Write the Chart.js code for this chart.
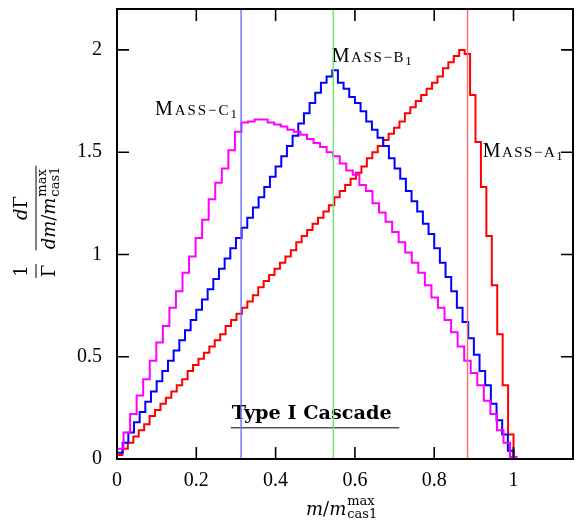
<!DOCTYPE html>
<html><head><meta charset="utf-8">
<script src="https://cdn.jsdelivr.net/npm/chart.js@4.4.0/dist/chart.umd.min.js"></script>
<style>html,body{margin:0;padding:0;background:#fff;}canvas{display:block;}</style>
</head><body>
<canvas id="c" width="583" height="523"></canvas>
<script>
// ---------- data ----------
const xTicks = [0, 0.2, 0.4, 0.6, 0.8, 1];
const xTickLabels = ['0', '0.2', '0.4', '0.6', '0.8', '1'];
const yTicks = [0, 0.5, 1, 1.5, 2];
const yTickLabels = ['0', '0.5', '1', '1.5', '2'];
const xMax = 1.15;
const yMax = 2.2;

// Mass-A1 (red) histogram, 73 bins of width 1/73
const massA1BinWidth = 1 / 73;
const massA1 = [0.02,0.05,0.08,0.11,0.14,0.17,0.21,0.24,0.27,0.30,
  0.33,0.36,0.39,0.43,0.46,0.49,0.52,0.55,0.58,0.61,
  0.65,0.68,0.71,0.74,0.77,0.80,0.84,0.87,0.90,0.93,
  0.96,0.99,1.02,1.06,1.09,1.12,1.15,1.18,1.21,1.24,
  1.28,1.31,1.34,1.37,1.40,1.43,1.47,1.50,1.53,1.56,
  1.59,1.62,1.65,1.69,1.72,1.75,1.78,1.81,1.84,1.87,
  1.91,1.94,1.97,2.00,1.98,1.78,1.55,1.33,1.09,0.85,
  0.61,0.36,0.12];

// Mass-B1 (blue) histogram, 70 bins of width 1/70
const massB1BinWidth = 1 / 70;
const massB1 = [0.03,0.08,0.13,0.18,0.23,0.28,0.33,0.38,0.43,0.48,
  0.53,0.58,0.63,0.68,0.73,0.78,0.83,0.88,0.93,0.98,
  1.03,1.08,1.13,1.18,1.23,1.28,1.33,1.38,1.43,1.48,
  1.53,1.58,1.64,1.69,1.74,1.79,1.84,1.87,1.90,1.84,
  1.81,1.77,1.74,1.70,1.65,1.61,1.57,1.53,1.47,1.42,
  1.37,1.31,1.26,1.21,1.15,1.10,1.03,0.96,0.89,0.82,
  0.74,0.67,0.59,0.51,0.43,0.36,0.27,0.19,0.12,0.04];

// Mass-C1 (magenta) histogram, 61 bins of width 0.01652
const massC1BinWidth = 0.01652;
const massC1 = [0.05,0.13,0.22,0.31,0.39,0.48,0.57,0.65,0.74,0.82,
  0.91,0.99,1.08,1.17,1.27,1.35,1.42,1.51,1.60,1.645,
  1.65,1.66,1.66,1.645,1.635,1.625,1.61,1.60,1.585,1.565,
  1.545,1.525,1.50,1.48,1.445,1.41,1.39,1.34,1.31,1.25,
  1.205,1.16,1.11,1.06,1.01,0.96,0.91,0.85,0.79,0.74,
  0.68,0.62,0.55,0.48,0.42,0.36,0.285,0.22,0.14,0.08,0.01];

// endpoint markers (vertical lines)
const endpointC1 = 0.313;   // blue line
const endpointB1 = 0.5455;  // green line
const endpointA1 = 0.884;   // red line

// ---------- helpers ----------
function histPoints(values, width) {
  const pts = [{x: 0, y: 0}];
  values.forEach((v, i) => pts.push({x: i * width, y: v}));
  const end = values.length * width;
  pts.push({x: end, y: values[values.length - 1]});
  pts.push({x: end, y: 0});
  pts.push({x: xMax, y: 0});
  return pts;
}
function vline(v) { return [{x: v, y: 0}, {x: v, y: yMax}]; }

const SERIF = '"Liberation Serif", "Times New Roman", serif';
const MATH = '"DejaVu Serif", serif';

function font(r) {
  return (r.italic ? 'italic ' : '') + (r.bold ? 'bold ' : '') + r.size + 'px ' + (r.family || SERIF);
}
function drawRuns(ctx, x, y, runs, target) {
  const widths = runs.map(r => { ctx.font = font(r); return ctx.measureText(r.t).width; });
  const total = widths.reduce((a, b) => a + b, 0);
  const gap = target && runs.length > 1 ? (target - total) / (runs.length - 1) : 0;
  runs.forEach((r, i) => {
    ctx.font = font(r);
    ctx.fillText(r.t, x, y + (r.dy || 0));
    x += widths[i] + gap;
  });
}
function smallCaps(letter) {
  return [
    {t: 'M', size: 20}, {t: 'A', size: 15}, {t: 'S', size: 15}, {t: 'S', size: 15},
    {t: '\u2212', size: 15}, {t: letter, size: 15}, {t: '1', size: 13, dy: 3}
  ];
}
function zeroPad(s) { s.paddingTop = 0; s.paddingBottom = 0; s.paddingLeft = 0; s.paddingRight = 0; }

// ---------- plugin for frame, inward ticks and text ----------
const decor = {
  id: 'decor',
  beforeDatasetsDraw(chart) {
    const {ctx, scales: {x, y}} = chart;
    ctx.save();
    ctx.fillStyle = '#000';
    ctx.textBaseline = 'alphabetic';
    ctx.textAlign = 'left';
    drawRuns(ctx, x.getPixelForValue(0.0958), y.getPixelForValue(1.682), smallCaps('C'), 82);
    drawRuns(ctx, x.getPixelForValue(0.5415), y.getPixelForValue(1.941), smallCaps('B'), 80);
    drawRuns(ctx, x.getPixelForValue(0.9223), y.getPixelForValue(1.475), smallCaps('A'), 80);
    // Type I Cascade
    const tx = x.getPixelForValue(0.2893), ty = y.getPixelForValue(0.194);
    ctx.font = 'bold 100px "DejaVu Serif", serif';
    const w100 = ctx.measureText('Type I Cascade').width;
    const fs = 100 * 160 / w100;
    ctx.font = 'bold ' + fs.toFixed(2) + 'px "DejaVu Serif", serif';
    ctx.fillText('Type I Cascade', tx, ty);
    ctx.strokeStyle = '#000';
    ctx.lineWidth = 1;
    ctx.beginPath();
    ctx.moveTo(tx - 1, ty + 8.5);
    ctx.lineTo(tx + 167.5, ty + 8.5);
    ctx.stroke();
    ctx.restore();
  },
  afterDatasetsDraw(chart) {
    const {ctx, chartArea: a, scales: {x, y}} = chart;
    ctx.save();
    ctx.strokeStyle = '#000';
    ctx.lineWidth = 1.6;
    const L = 12;
    ctx.beginPath();
    xTicks.forEach(v => {
      const px = x.getPixelForValue(v);
      ctx.moveTo(px, a.bottom); ctx.lineTo(px, a.bottom - L);
      ctx.moveTo(px, a.top); ctx.lineTo(px, a.top + L);
    });
    yTicks.forEach(v => {
      const py = y.getPixelForValue(v);
      ctx.moveTo(a.left, py); ctx.lineTo(a.left + L, py);
      ctx.moveTo(a.right, py); ctx.lineTo(a.right - L, py);
    });
    ctx.stroke();
    ctx.lineWidth = 2;
    ctx.strokeRect(a.left, a.top, a.right - a.left, a.bottom - a.top);
    ctx.restore();
  },
  afterDraw(chart) {
    const {ctx} = chart;
    ctx.save();
    ctx.fillStyle = '#000';
    ctx.strokeStyle = '#000';
    ctx.textAlign = 'left';
    // x-axis title: m/m^max_cas1
    const base = 515;
    ctx.font = 'italic 18px ' + MATH;
    const wm = ctx.measureText('m').width;
    ctx.font = '18px ' + MATH;
    const ws = ctx.measureText('/').width;
    const x0 = 306;
    ctx.font = 'italic 18px ' + MATH;
    ctx.fillText('m', x0, base);
    ctx.font = '18px ' + MATH;
    ctx.fillText('/', x0 + wm, base);
    ctx.font = 'italic 18px ' + MATH;
    ctx.fillText('m', x0 + wm + ws, base);
    ctx.font = '13px ' + MATH;
    const xs = x0 + 2 * wm + ws + 1;
    ctx.fillText('max', xs, base - 10);
    ctx.fillText('cas1', xs, base + 3);

    // y-axis title (rotated)
    ctx.translate(36, 230);
    ctx.rotate(-Math.PI / 2);
    ctx.lineWidth = 1;
    ctx.textAlign = 'center';
    ctx.font = '18px ' + MATH;
    ctx.fillText('1', -41, -9);
    ctx.fillText('\u0393', -41, 19);
    ctx.beginPath(); ctx.moveTo(-48, 0); ctx.lineTo(-34, 0); ctx.stroke();
    ctx.textAlign = 'left';
    ctx.font = 'italic 18px ' + MATH;
    const wd = ctx.measureText('d').width;
    ctx.font = '18px ' + MATH;
    const wG = ctx.measureText('\u0393').width;
    const numW = wd + wG;
    ctx.font = 'italic 18px ' + MATH;
    const wdm = ctx.measureText('dm').width;
    const wmm = ctx.measureText('m').width;
    ctx.font = '18px ' + MATH;
    const wsl = ctx.measureText('/').width;
    ctx.font = '13px ' + MATH;
    const wss = Math.max(ctx.measureText('max').width, ctx.measureText('cas1').width);
    const denW = wdm + wsl + wmm + 1 + wss;
    const c2 = 22;
    ctx.beginPath(); ctx.moveTo(c2 - denW / 2 - 1, 0); ctx.lineTo(c2 + denW / 2 + 1, 0); ctx.stroke();
    const nx = c2 - numW / 2;
    ctx.font = 'italic 18px ' + MATH; ctx.fillText('d', nx, -9);
    ctx.font = '18px ' + MATH; ctx.fillText('\u0393', nx + wd, -9);
    const dx = c2 - denW / 2;
    ctx.font = 'italic 18px ' + MATH; ctx.fillText('dm', dx, 19);
    ctx.font = '18px ' + MATH; ctx.fillText('/', dx + wdm, 19);
    ctx.font = 'italic 18px ' + MATH; ctx.fillText('m', dx + wdm + wsl, 19);
    ctx.font = '13px ' + MATH;
    ctx.fillText('max', dx + wdm + wsl + wmm + 1, 10);
    ctx.fillText('cas1', dx + wdm + wsl + wmm + 1, 23);
    ctx.restore();
  }
};

new Chart(document.getElementById('c'), {
  type: 'line',
  data: {
    datasets: [
      {label: 'C1 endpoint', data: vline(endpointC1), borderColor: '#6b6bff', borderWidth: 1.4, pointRadius: 0, order: 0},
      {label: 'B1 endpoint', data: vline(endpointB1), borderColor: '#6ee86e', borderWidth: 1.4, pointRadius: 0, order: 0},
      {label: 'A1 endpoint', data: vline(endpointA1), borderColor: '#ff6b6b', borderWidth: 1.4, pointRadius: 0, order: 0},
      {label: 'MASS-C1', data: histPoints(massC1, massC1BinWidth), borderColor: '#ff00ff', borderWidth: 2, stepped: 'before', pointRadius: 0, order: 1},
      {label: 'MASS-B1', data: histPoints(massB1, massB1BinWidth), borderColor: '#0000ff', borderWidth: 2, stepped: 'before', pointRadius: 0, order: 2},
      {label: 'MASS-A1', data: histPoints(massA1, massA1BinWidth), borderColor: '#ff0000', borderWidth: 2, stepped: 'before', pointRadius: 0, order: 3}
    ]
  },
  options: {
    responsive: false,
    animation: false,
    devicePixelRatio: 1,
    layout: {padding: {top: 9, right: 10, left: 0, bottom: 0}},
    plugins: {legend: {display: false}, tooltip: {enabled: false}},
    elements: {line: {tension: 0}},
    scales: {
      x: {
        type: 'linear', min: 0, max: xMax,
        grid: {display: false, drawTicks: false},
        border: {display: false},
        afterBuildTicks: s => { s.ticks = xTicks.map(v => ({value: v})); },
        afterFit: s => { s.height = 64; zeroPad(s); },
        ticks: {
          callback: (v, i) => xTickLabels[i],
          font: {family: SERIF, size: 20}, color: '#000', padding: 10,
          maxRotation: 0, autoSkip: false, includeBounds: false
        }
      },
      y: {
        type: 'linear', min: 0, max: yMax,
        grid: {display: false, drawTicks: false},
        border: {display: false},
        afterBuildTicks: s => { s.ticks = yTicks.map(v => ({value: v})); },
        afterFit: s => { s.width = 117; zeroPad(s); },
        ticks: {
          callback: (v, i) => yTickLabels[i],
          font: {family: SERIF, size: 20}, color: '#000', padding: 15,
          autoSkip: false, includeBounds: false
        }
      }
    }
  },
  plugins: [decor]
});
</script>
</body></html>
